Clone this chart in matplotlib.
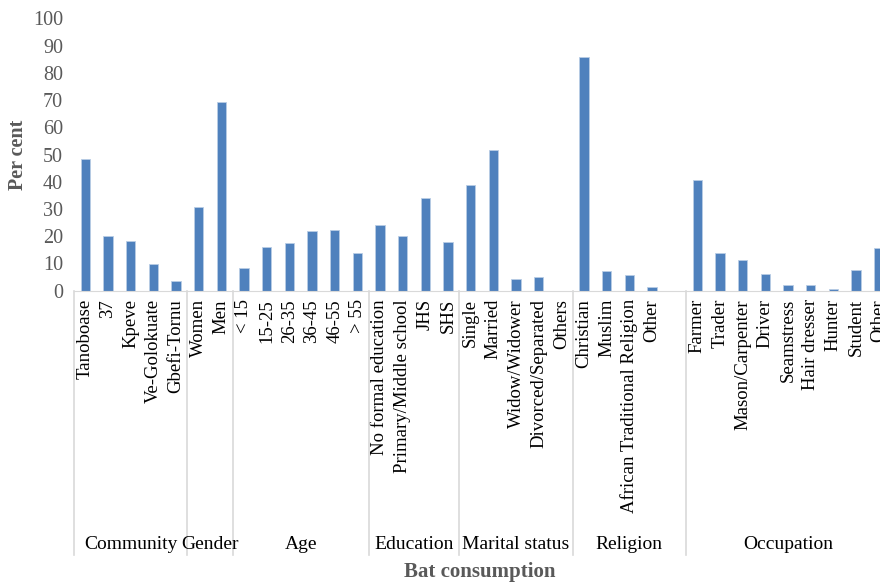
import matplotlib
matplotlib.use("Agg")
import matplotlib.pyplot as plt
import matplotlib.transforms as mtransforms
import numpy as np

plt.rcParams['font.family'] = ['Liberation Serif', 'DejaVu Serif']

groups = ["Community", "Gender", "Age", "Education", "Marital status", "Religion", "Occupation"]
group_labels = [
    ["Tanoboase", "37", "Kpeve", "Ve-Golokuate", "Gbefi-Tornu"],
    ["Women", "Men"],
    ["< 15", "15-25", "26-35", "36-45", "46-55", "> 55"],
    ["No formal education", "Primary/Middle school", "JHS", "SHS"],
    ["Single", "Married", "Widow/Widower", "Divorced/Separated", "Others"],
    ["Christian", "Muslim", "African Traditional Religion", "Other", ""],
    ["Farmer", "Trader", "Mason/Carpenter", "Driver", "Seamstress", "Hair dresser",
     "Hunter", "Student", "Other"],
]
group_values = [
    [48.3, 20.1, 18.2, 9.7, 3.4],
    [30.8, 69.2],
    [8.4, 16.0, 17.4, 21.9, 22.3, 13.8],
    [24.2, 20.1, 33.9, 17.8],
    [38.9, 51.7, 4.3, 5.1, 0.0],
    [85.8, 7.1, 5.8, 1.4, 0.0],
    [40.6, 13.7, 11.2, 6.1, 2.1, 2.1, 0.6, 7.6, 15.8],
]

labels = [l for g in group_labels for l in g]
values = [v for g in group_values for v in g]
x = np.arange(len(labels))

fig = plt.figure(figsize=(8.8, 5.83), dpi=100)
ax = fig.add_axes([74 / 880, 1 - 290.7 / 583, 816 / 880, 272.4 / 583])

ax.bar(x, values, width=0.4, color='#4F81BD', edgecolor='#B9CDE5', linewidth=0.6)

ax.set_xlim(-0.5, len(labels) - 0.5)
ax.set_ylim(0, 100)
ax.set_yticks(np.arange(0, 101, 10))
ax.tick_params(axis='y', length=0, pad=8, labelsize=14.5, labelcolor='#595959')
ax.set_xticks(x)
ax.set_xticklabels(labels, rotation=90, fontsize=13.5, va='top')
ax.tick_params(axis='x', length=0, pad=6)

for s in ['left', 'top', 'right']:
    ax.spines[s].set_visible(False)
ax.spines['bottom'].set_color('#D9D9D9')

trans = mtransforms.blended_transform_factory(ax.transData, ax.transAxes)
start = 0
bounds = [-0.5]
for name, g in zip(groups, group_labels):
    end = start + len(g)
    bounds.append(end - 0.5)
    ax.text((start + end - 1) / 2, -0.932, name, transform=trans, ha='center',
            va='center', fontsize=14)
    start = end
for b in bounds:
    ax.plot([b, b], [0, -0.969], transform=trans, color='#D9D9D9', lw=1.2, clip_on=False)

fig.text(18 / 880, 1 - 155 / 583, "Per cent", rotation=90, ha='center', va='center',
         fontsize=14.5, fontweight='bold', color='#595959')
fig.text(480 / 880, 1 - 572 / 583, "Bat consumption", ha='center', va='center',
         fontsize=15, fontweight='bold', color='#595959')

fig.savefig("out.png", dpi=100)
